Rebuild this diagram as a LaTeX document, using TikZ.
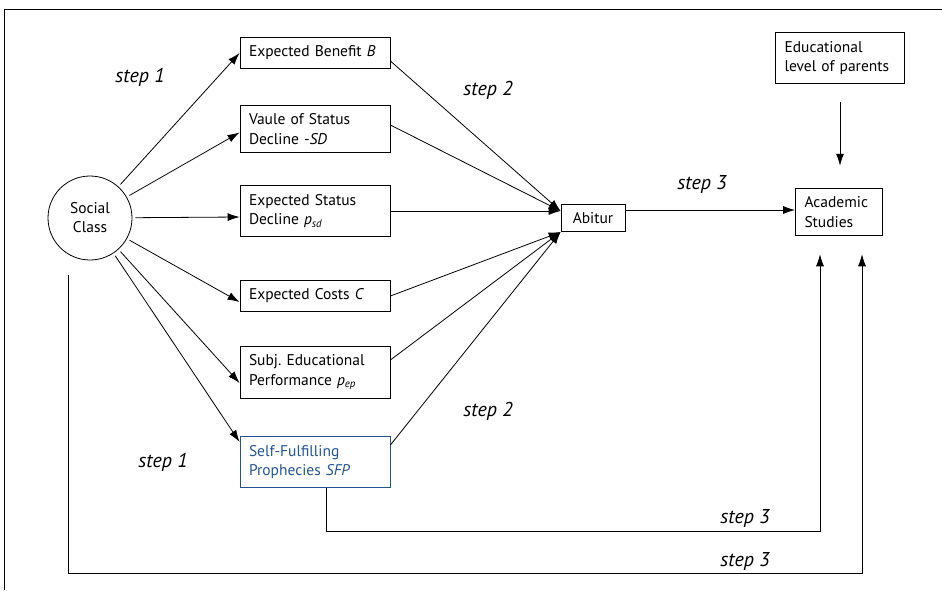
\documentclass[tikz,border=0pt]{standalone}
\usepackage{fontspec}
\setmainfont{PT Sans}
\usetikzlibrary{arrows.meta}
\definecolor{sfpblue}{RGB}{35,85,150}
\frenchspacing

\tikzset{
    box/.style={draw, line width=0.8pt, text width=132pt, inner xsep=9pt, inner ysep=8.5pt,
        align=left, font=\fontsize{15.5}{19.5}\selectfont},
    steplabel/.style={font=\fontsize{20}{22}\selectfont\itshape},
    arr/.style={line width=0.8pt, -{Latex[length=12pt,width=8pt]}},
}

\begin{document}
\begin{tikzpicture}[x=1pt, y=-1pt]

    \useasboundingbox (0,0) rectangle (942,590);
    \draw[line width=0.8pt] (942,9)--(4,9)--(4,590);

    % social class and the six factors
    \node[draw, circle, line width=0.8pt, minimum size=84pt, align=center,
        font=\fontsize{15.5}{19}\selectfont] (sc) at (90,218) {Social\\Class};

    \node[box] (ben)  at (315,53)  {Expected Benefit \textit{B}};
    \node[box] (sd)   at (315,129) {Vaule of Status\\Decline -\textit{SD}};
    \node[box] (psd)  at (315,211) {Expected Status\\Decline \textit{p}\textsubscript{\textit{sd}}};
    \node[box] (cost) at (315,296) {Expected Costs \textit{C}};
    \node[box] (pep)  at (315,372) {Subj. Educational\\Performance \textit{p}\textsubscript{\textit{ep}}};
    \node[box, draw=sfpblue, text=sfpblue] (sfp) at (315,462) {Self-Fulfilling\\Prophecies \textit{SFP}};

    \node[draw, line width=0.8pt, minimum width=64pt, minimum height=27pt,
        font=\fontsize{15.5}{19}\selectfont] (abi) at (593,218) {Abitur};
    \node[box, text width=69pt] (acad) at (839,212) {Academic\\Studies};
    \node[box, text width=111pt] (par) at (840,58) {Educational\\level of parents};

    % step 1
    \draw[arr, shorten <=3pt] (sc) -- (ben.west);
    \draw[arr, shorten <=3pt] (sc) -- ([yshift=-3.5pt]sd.west);
    \draw[arr, shorten <=3pt] (sc) -- ([yshift=-6pt]psd.west);
    \draw[arr, shorten <=3pt] (sc) -- ([yshift=-6pt]cost.west);
    \draw[arr, shorten <=3pt] (sc) -- ([yshift=-11pt]pep.west);
    \draw[arr, shorten <=3pt] (sc) -- ([yshift=20pt]sfp.west);

    % step 2
    \draw[arr] ([yshift=-8pt]ben.east) -- ([yshift=7pt]abi.west);
    \draw[arr] ([yshift=4pt]sd.east) -- ([yshift=7pt]abi.west);
    \draw[arr] (psd.east) -- ([yshift=7pt]abi.west);
    \draw[arr] (cost.east) -- ([yshift=-14pt]abi.west);
    \draw[arr] ([yshift=12pt]pep.east) -- ([yshift=-14pt]abi.west);
    \draw[arr] ([yshift=17pt]sfp.east) -- ([yshift=-14pt]abi.west);

    % step 3
    \draw[arr] ([yshift=8pt]abi.east) -- ([yshift=2pt]acad.west);
    \draw[arr, shorten <=18pt, shorten >=22pt] (par.south) -- ([xshift=1pt]acad.north);
    \draw[arr, shorten >=18pt] ([xshift=11pt]sfp.south) -- ++(0,44) -| ([xshift=-19pt]acad.south);
    \draw[arr, shorten <=15pt, shorten >=18pt] ([xshift=-22pt]sc.south) -- ++(0,313) -| ([xshift=23pt]acad.south);

    \node[steplabel] (s1a) at (140,77)  {step 1};
    \node[steplabel] (s1b) at (163,462) {step 1};
    \node[steplabel] (s2a) at (488,90)  {step 2};
    \node[steplabel] (s2b) at (488,411) {step 2};
    \node[steplabel] (s3a) at (702,184) {step 3};
    \node[steplabel] (s3b) at (745,518) {step 3};
    \node[steplabel] (s3c) at (745,561) {step 3};

\end{tikzpicture}
\end{document}
